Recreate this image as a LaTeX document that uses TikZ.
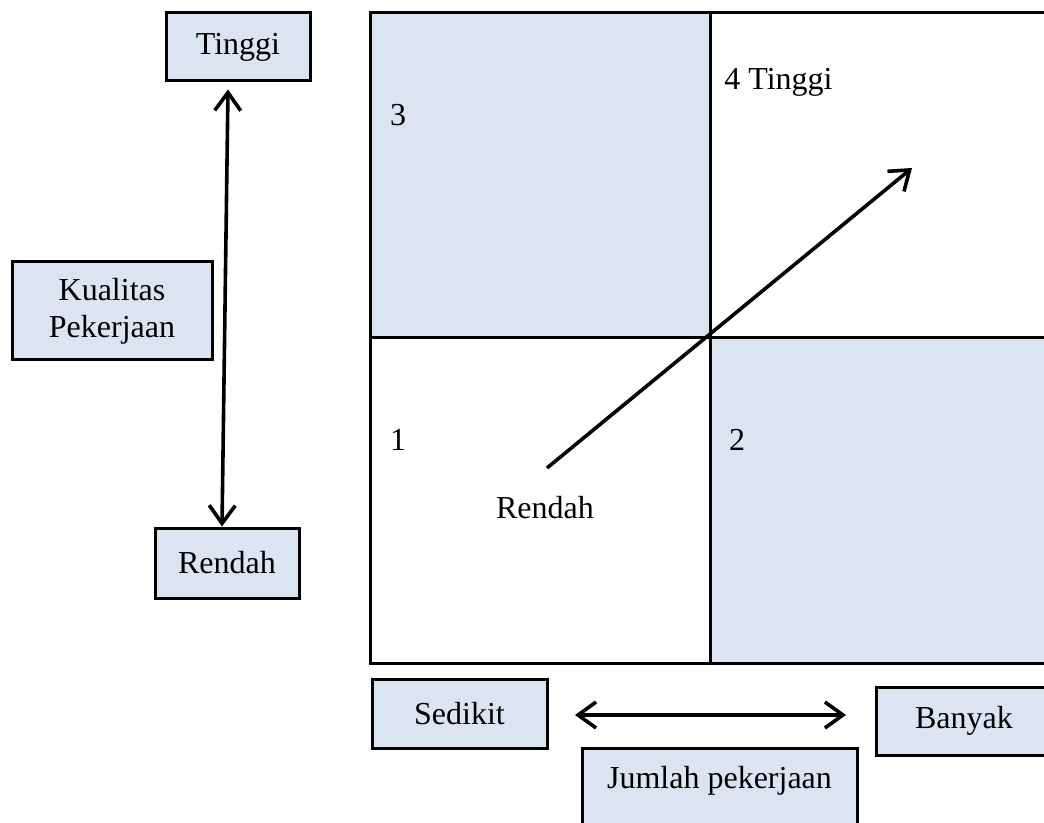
\documentclass[tikz,border=0pt]{standalone}
\usepackage{fontspec}
\setmainfont{Liberation Serif}
\usetikzlibrary{arrows.meta}
\definecolor{boxblue}{HTML}{DBE5F1}
\begin{document}
\begin{tikzpicture}[x=0.5pt,y=-0.5pt,
  box/.style={draw=black, line width=1.5pt, fill=boxblue, inner sep=0pt, font=\fontsize{16}{18.5}\selectfont},
  lbl/.style={inner sep=0pt, font=\fontsize{16}{18.5}\selectfont},
  tipb/.tip={Straight Barb[length=9pt,width=13pt,line width=1.8pt]},
  arr/.style={line width=1.8pt, tipb-tipb},
  arrone/.style={line width=1.8pt, -tipb},
  gridline/.style={line width=1.5pt, draw=black}
]
\useasboundingbox (0,0) rectangle (1044,823);
\clip (0,0) rectangle (1044,823);

% quadrant grid
\fill[boxblue] (370,13) rectangle (710,338);
\fill[boxblue] (710,338) rectangle (1070,663);
\draw[gridline] (1070,13) -- (370,13) -- (370,663) -- (1070,663);
\draw[gridline] (710,13) -- (710,663);
\draw[gridline] (370,338) -- (1070,338);

% boxes
\node[box, minimum width=72pt, minimum height=34pt] (tinggi) at (238,47) {Tinggi};
\node[box, align=center, minimum width=100pt, minimum height=49pt] (kualitas) at (112,311) {Kualitas\\Pekerjaan};
\node[box, minimum width=72pt, minimum height=35pt] (rendah) at (227,563) {Rendah};
\node[box, minimum width=87.5pt, minimum height=34.5pt] (sedikit) at (459.5,713.5) {Sedikit};
\node[box, minimum width=88pt, minimum height=34pt] (banyak) at (964,721) {Banyak};
\node[box, anchor=north, minimum width=137.5pt, inner ysep=4pt, text height=16pt, text depth=40pt] (jumlah) at (719.5,747) {Jumlah pekerjaan};

% quadrant labels
\node[lbl] (n3) at (398,115) {3};
\node[lbl, anchor=west] (n4) at (724,82) {4 Tinggi};
\node[lbl] (n1) at (398,440) {1};
\node[lbl] (n2) at (737,440) {2};
\node[lbl] (low) at (545,508) {Rendah};

% arrows
\draw[arr] ([xshift=-5pt,yshift=-3.5pt]tinggi.south) -- ([xshift=-2.5pt]rendah.north);
\coordinate (hl) at (575,715);
\coordinate (hr) at (846,715);
\draw[arr] (hl) -- (hr);
\coordinate (dstart) at (547,468);
\coordinate (dend) at (912,168);
\draw[arrone] (dstart) -- (dend);
\end{tikzpicture}
\end{document}
